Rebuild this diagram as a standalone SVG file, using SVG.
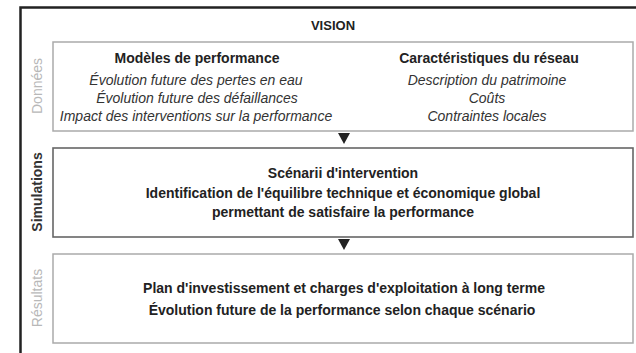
<svg xmlns="http://www.w3.org/2000/svg" width="636" height="353" viewBox="0 0 636 353">
<style>
text{font-family:"Liberation Sans",Arial,sans-serif;font-size:14px;fill:#222;text-anchor:middle}
.b{font-weight:bold}
.i{font-style:italic;fill:#333}
.side{font-size:14px}
.grey{fill:#b8b8b8}
.box{fill:#fff;stroke:#aaa;stroke-width:1.5}
.box2{fill:#fff;stroke:#666;stroke-width:1.6}
.arr{fill:#222}
</style>
<rect width="636" height="353" fill="#fff"/>
<g id="frame">
<path d="M20.5,353 V7.5 H636" fill="none" stroke="#222" stroke-width="2.5"/>
<text class="b" x="333" y="30" style="font-size:13px">VISION</text>
</g>
<g id="donnees">
<text class="side grey" transform="translate(42,86) rotate(-90)">Données</text>
<rect class="box" x="53" y="42" width="580" height="89"/>
<text class="b" x="197" y="63">Modèles de performance</text>
<text class="i" x="196" y="85">Évolution future des pertes en eau</text>
<text class="i" x="197" y="103">Évolution future des défaillances</text>
<text class="i" x="196" y="121">Impact des interventions sur la performance</text>
<text class="b" x="489" y="63">Caractéristiques du réseau</text>
<text class="i" x="487" y="85">Description du patrimoine</text>
<text class="i" x="487" y="103">Coûts</text>
<text class="i" x="487" y="121">Contraintes locales</text>
</g>
<g id="simulations">
<text class="side b" style="fill:#333" transform="translate(42,192) rotate(-90)">Simulations</text>
<rect class="box2" x="53" y="148" width="580" height="89"/>
<text class="b" x="343" y="178">Scénarii d'intervention</text>
<text class="b" x="343" y="198">Identification de l'équilibre technique et économique global</text>
<text class="b" x="343" y="217">permettant de satisfaire la performance</text>
</g>
<g id="resultats">
<text class="side grey" transform="translate(42,298) rotate(-90)">Résultats</text>
<rect class="box" x="53" y="254" width="580" height="89"/>
<text class="b" x="344" y="293">Plan d'investissement et charges d'exploitation à long terme</text>
<text class="b" x="342" y="315">Évolution future de la performance selon chaque scénario</text>
</g>
<g id="connectors">
<polygon class="arr" points="338,133 350,133 344,144"/>
<polygon class="arr" points="338,239 350,239 344,250"/>
</g>
</svg>
